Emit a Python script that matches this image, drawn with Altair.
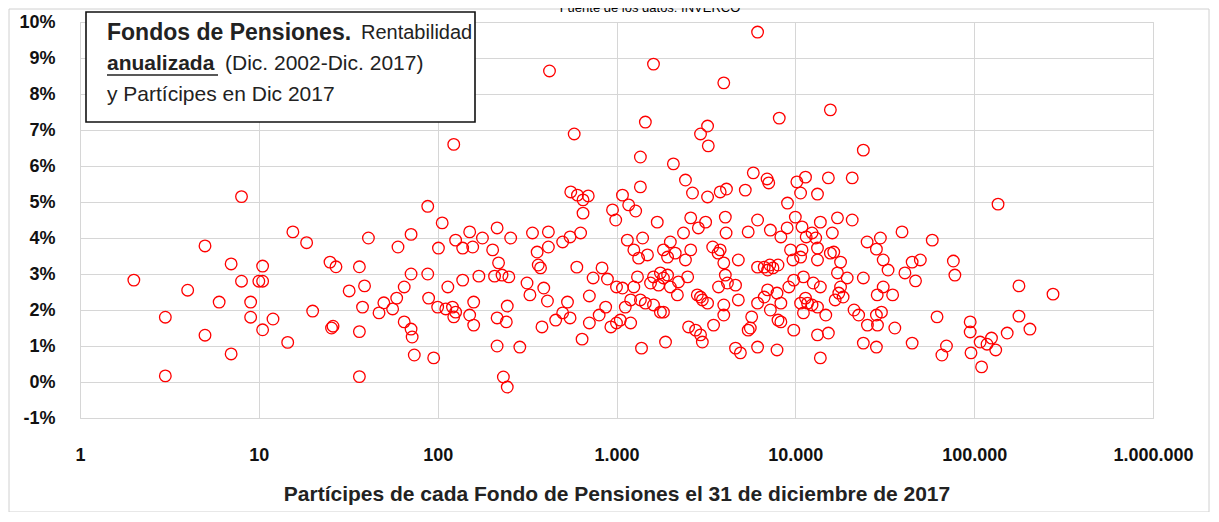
import altair as alt
import pandas as pd

# Partícipes (x) and rentabilidad anualizada % (y)
participes = [
    2, 3, 3, 4, 5, 5, 6, 7, 7, 8, 8, 9, 9, 10, 10.5, 10.5, 10.5, 12,
    14.5, 15.5, 18.5, 20, 25, 27, 25.5, 26, 32, 36.5, 39, 36.5, 36.5, 41, 38, 47, 50, 56, 59, 60,
    71, 65, 71, 65, 71, 72, 74, 88, 88, 89, 95,
    106, 123, 101, 126, 138, 151, 157, 178, 203, 215, 256, 114, 138, 170, 208, 229, 250, 219,
    100, 111, 121, 126, 123, 159, 151, 159, 215, 245, 242, 215, 288, 233, 245, 316, 328, 392,
    411, 339, 416, 360, 416, 365, 376, 383, 457, 500, 532, 550, 500, 550, 630, 600, 555, 605,
    650, 695, 650, 580, 422, 642, 705, 705, 740, 830, 890, 800, 870, 930, 1000, 1000, 950, 990,
    1080, 1150, 6150, 1610, 3980, 8130, 1450, 3230, 2950, 3260, 1360, 2080, 1360, 2430, 2660,
    3230, 3800, 4120, 5250, 5820, 6950, 7100, 9040, 10200, 11400, 1170, 1280, 1690, 2600, 3150,
    2870, 4060, 4100, 5450, 6150, 7250, 10000, 9000, 8300, 10900, 1400, 1250, 1330, 1490, 1830,
    2000, 2130, 2370, 1930, 2430, 2600, 3450, 3700, 3800, 3980, 4800, 6150, 6700, 7000, 7200,
    7500, 8000, 9400, 9700, 10900, 11500, 1310, 1610, 1760, 1830, 1930, 1720, 1550, 2000, 2220,
    2500, 2950, 3720, 4060, 4170, 4630, 4800, 1080, 1250, 1200, 1120, 1050, 1360, 1450, 1610,
    2190, 2830, 3020, 3230, 3980, 1200, 1760, 1830, 2530, 2770, 2950, 3020, 3490, 3980, 5600,
    5700, 6150, 6700, 7250, 7000, 7900, 8300, 9200, 9800, 8000, 8300, 9800, 10700, 11400, 6150,
    5450, 4630, 4930, 7900, 1380, 1880,
    15700, 24000, 15300, 20800, 10700, 13300, 13800, 17200, 20800, 12400, 13000, 16100, 25200,
    29900, 28400, 39500, 58300, 10700, 13300, 15700, 16400, 13300, 17900, 17200, 19500, 31000,
    33000, 41000, 45000, 50000, 47000, 76500, 78000, 24000, 11100, 12600, 13800, 17900, 17500,
    18500, 16700, 31000, 28700, 35000, 11700, 12400, 13300, 11100, 14800, 21300, 22600, 28400,
    30300, 25300, 28800, 36000, 62000, 13300, 15300, 24000, 28400, 45000, 13800, 70000, 66000,
    95000, 95000, 96000, 108000, 110000,
    136000, 178000, 276000, 178000, 205000, 153000, 125000, 132000, 118000,
]
rentabilidad = [
    2.83, 1.8, 0.17, 2.55, 1.3, 3.78, 2.22, 3.28, 0.78, 5.15, 2.8, 2.22, 1.8, 2.8, 2.8, 3.22, 1.45, 1.75,
    1.1, 4.17, 3.87, 1.97, 3.33, 3.2, 1.5, 1.55, 2.53, 3.2, 2.67, 1.4, 0.15, 4.0, 2.08, 1.92, 2.2, 2.03, 2.33, 3.75,
    4.1, 2.64, 3.0, 1.67, 1.47, 1.25, 0.75, 4.88, 3.0, 2.33, 0.67,
    4.42, 6.6, 3.72, 3.94, 3.72, 4.17, 3.75, 4.0, 3.67, 4.28, 4.0, 2.64, 2.83, 2.94, 2.94, 2.97, 2.92, 3.31,
    2.08, 2.03, 2.08, 1.94, 1.81, 2.22, 1.86, 1.58, 1.78, 2.11, 1.67, 1.0, 0.97, 0.14, -0.14, 2.75, 2.42, 2.61,
    2.25, 4.14, 4.17, 3.61, 3.75, 3.25, 3.17, 1.53, 1.72, 1.92, 2.22, 1.78, 3.89, 4.03, 4.14, 3.19, 5.28, 5.19,
    5.06, 5.17, 4.69, 6.89, 8.64, 1.19, 1.64, 2.39, 2.89, 3.17, 2.86, 1.86, 2.08, 1.53, 1.64, 2.64, 4.78, 4.5,
    5.19, 3.94, 9.72, 8.83, 8.31, 7.33, 7.22, 7.11, 6.89, 6.56, 6.25, 6.06, 5.42, 5.61, 5.25,
    5.14, 5.28, 5.36, 5.33, 5.81, 5.64, 5.53, 4.97, 5.56, 5.69, 4.92, 4.75, 4.44, 4.56, 4.44,
    4.28, 4.58, 4.14, 4.17, 4.5, 4.22, 4.58, 4.28, 4.03, 4.31, 4.0, 3.67, 3.44, 3.53, 3.67,
    3.89, 3.58, 4.14, 3.47, 3.39, 3.67, 3.75, 3.58, 3.67, 3.31, 3.39, 3.19, 3.19, 3.11, 3.25,
    3.17, 3.25, 3.67, 3.39, 3.67, 4.03, 2.92, 2.92, 3.03, 2.89, 2.97, 2.69, 2.75, 2.64, 2.78,
    2.92, 2.36, 2.64, 2.97, 2.75, 2.69, 2.28, 2.61, 2.64, 2.28, 2.08, 1.72, 2.28, 2.19, 2.14,
    2.42, 2.42, 2.28, 2.19, 2.14, 1.64, 1.94, 1.94, 1.53, 1.44, 1.31, 1.11, 1.58, 1.86, 1.5,
    1.81, 2.19, 2.36, 2.0, 2.56, 2.47, 2.19, 2.64, 2.83, 1.72, 1.67, 1.44, 2.19, 2.33, 0.97,
    1.44, 0.94, 0.81, 0.89, 0.94, 1.11,
    7.56, 6.44, 5.67, 5.67, 5.25, 5.22, 4.44, 4.56, 4.5, 4.14, 4.0, 4.14, 3.89,
    4.0, 3.69, 4.17, 3.94, 3.47, 3.72, 3.58, 3.61, 3.39, 3.33, 3.03, 2.89, 3.39,
    3.11, 3.03, 3.33, 3.39, 2.81, 3.36, 2.97, 2.89, 2.92, 2.75, 2.64, 2.64, 2.47,
    2.36, 2.28, 2.64, 2.42, 2.42, 2.19, 2.14, 2.08, 1.92, 1.86, 2.0, 1.86, 1.86,
    1.94, 1.58, 1.58, 1.5, 1.81, 1.31, 1.36, 1.08, 0.97, 1.08, 0.67, 1.0, 0.75,
    1.67, 1.39, 0.81, 1.11, 0.42,
    4.94, 2.67, 2.44, 1.83, 1.47, 1.36, 1.22, 0.89, 1.05,
]

x_ticks = [1, 10, 100, 1000, 10000, 100000, 1000000]
y_ticks = list(range(-1, 11))

FONT = "Liberation Sans"
W, H = 1073, 396

df = pd.DataFrame({"participes": participes, "rentabilidad": rentabilidad})

points = alt.Chart(df).mark_point(
    shape="circle", filled=False, color="#ff0000", size=135, strokeWidth=1.3, opacity=1
).encode(
    x=alt.X(
        "participes:Q",
        scale=alt.Scale(type="log", domain=[1, 1000000], nice=False),
        axis=alt.Axis(
            values=x_ticks,
            labelExpr="replace(replace(format(datum.value, ','), ',', '.'), ',', '.')",
            grid=True, gridColor="#d6d6d6", ticks=False, tickSize=0, domain=False,
            labelFont=FONT, labelFontSize=18, labelFontWeight="bold", labelColor="#111",
            labelPadding=28, labelFlush=False,
            title="Partícipes de cada Fondo de Pensiones el 31 de diciembre de 2017",
            titleFont=FONT, titleFontSize=21, titleFontWeight="bold", titleColor="#222",
            titlePadding=19,
        ),
    ),
    y=alt.Y(
        "rentabilidad:Q",
        scale=alt.Scale(domain=[-1, 10], nice=False, zero=False),
        axis=alt.Axis(
            values=y_ticks,
            labelExpr="datum.value + '%'",
            grid=True, gridColor="#d6d6d6", ticks=False, tickSize=0, domain=False,
            labelFont=FONT, labelFontSize=18, labelFontWeight="bold", labelColor="#111",
            labelPadding=25, title=None,
        ),
    ),
)

one = pd.DataFrame({"k": [0]})

border = alt.Chart(one).mark_rect(fillOpacity=0, stroke="#d0d0d0", strokeWidth=1).encode(
    x=alt.value(-71), x2=alt.value(1129), y=alt.value(-13), y2=alt.value(490)
)

box = alt.Chart(one).mark_rect(fill="white", stroke="#111", strokeWidth=1.6).encode(
    x=alt.value(6), x2=alt.value(395), y=alt.value(-10), y2=alt.value(100)
)


def txt(s, x, y, size=21, weight="normal", align="left", baseline="middle", color="#222"):
    return alt.Chart(pd.DataFrame({"t": [s]})).mark_text(
        font=FONT, fontSize=size, fontWeight=weight, align=align, baseline=baseline, color=color
    ).encode(text="t:N", x=alt.value(x), y=alt.value(y))


underline = alt.Chart(one).mark_rule(color="#222", strokeWidth=1.5).encode(
    x=alt.value(27), x2=alt.value(138), y=alt.value(53)
)

texts = [
    txt("Fondos de Pensiones.", 27, 11, size=23, weight="bold"),
    txt("Rentabilidad", 281, 11, size=20),
    txt("anualizada", 27, 42, weight="bold"),
    txt("(Dic. 2002-Dic. 2017)", 145, 42),
    txt("y Partícipes  en Dic 2017", 27, 73),
    txt("Fuente de los datos: INVERCO", 570, -7, size=13, align="center", baseline="bottom", color="#000"),
]

chart = alt.layer(border, points, box, underline, *texts).properties(
    width=W, height=H,
    autosize=alt.AutoSizeParams(type="none"),
    padding={"left": 72, "top": 14, "right": 58, "bottom": 94},
    background="white",
).configure_view(stroke="#d0d0d0", strokeWidth=1)

chart.save("out.html", embed_options={"renderer": "svg", "actions": False})
